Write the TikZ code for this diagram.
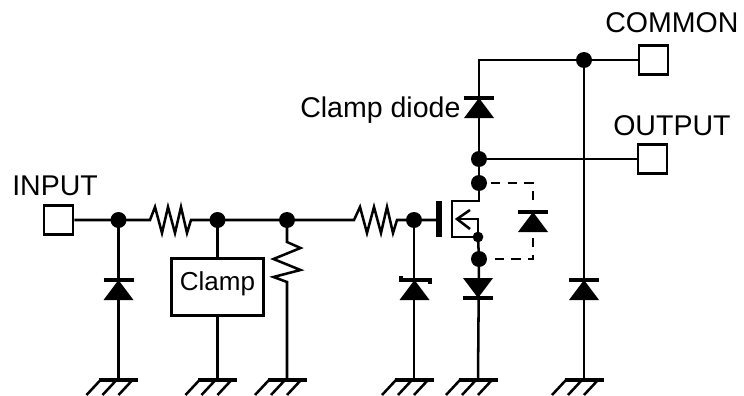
\documentclass[tikz,border=0pt]{standalone}
\usepackage{fontspec}
\setmainfont{Liberation Sans}
\tikzset{
  wire/.style={line width=1.9pt,line join=miter},
  dotn/.style={circle,fill=black,inner sep=0pt,minimum size=12pt},
  smalldot/.style={circle,fill=black,inner sep=0pt,minimum size=8pt},
  pad/.style={draw,line width=1.9pt,fill=white,inner sep=0pt,minimum width=22pt,minimum height=22pt},
  clampbox/.style={draw,line width=1.9pt,fill=white,inner sep=0pt,minimum width=69pt,minimum height=43pt,font=\fontsize{19.5}{22}\selectfont},
  lab/.style={anchor=base west,inner sep=0pt,font=\fontsize{21.4}{24}\selectfont},
  dashwire/.style={line width=1.9pt,dash pattern=on 7pt off 5.5pt},
  bar/.style={line width=3pt},
  gndsym/.pic={
    \draw[bar] (-19.5,0) -- (19.5,0);
    \draw[line width=1.9pt] (-18,0) -- ++(-14,15) (-2,0) -- ++(-14,15) (14,0) -- ++(-14,15);
  },
  diodeup/.pic={
    \fill (-15,20) -- (15,20) -- (0,0) -- cycle;
    \draw[bar] (-15,0) -- (15,0);
  },
  diodedown/.pic={
    \fill (-15,-20) -- (15,-20) -- (0,0) -- cycle;
    \draw[bar] (-15,0) -- (15,0);
  },
  zenerup/.pic={
    \fill (-15,20) -- (15,20) -- (0,0) -- cycle;
    \draw[line width=3pt] (-14,-4) -- (-14,0) -- (15,0) -- (15,4);
  }
}
\begin{document}
\begin{tikzpicture}[x=0.75pt,y=-0.75pt]
\useasboundingbox (0,0) rectangle (744,396);
% terminals
\node[pad] (pin) at (58.5,220) {};
\node[pad] (com) at (653.5,60) {};
\node[pad] (out) at (652.5,159) {};
\node[clampbox] (clamp) at (217.5,287) {};
\node[inner sep=0pt,font=\fontsize{19.5}{22}\selectfont] (clamptext) at (217.5,283.5) {Clamp};
% junctions
\node[dotn] (j1) at (118.5,220) {};
\node[dotn] (j2) at (217.5,220) {};
\node[dotn] (j3) at (287,220) {};
\node[dotn] (j4) at (414,220) {};
\node[dotn] (jc) at (584,60) {};
\node[dotn] (jo) at (479,159) {};
\node[dotn] (jd) at (479,183) {};
\node[dotn] (js) at (479,259) {};
\node[smalldot] (jb) at (478,237) {};
% grounds and diode positions
\coordinate (g1) at (118.5,380);
\coordinate (g2) at (217.5,380);
\coordinate (g3) at (287,380);
\coordinate (g4) at (414,380);
\coordinate (g5) at (478,380);
\coordinate (g6) at (584,380);
\coordinate (tl) at (479,60);
\coordinate (dd) at (533,212);
\coordinate (gateL) at (439,201);
\coordinate (gateH) at (439,237);
\coordinate (chT) at (452,201);
\coordinate (chB) at (452,237);
\coordinate (dT) at (479,201);
\coordinate (bT) at (478,219);
\coordinate (bH) at (457,219);
% wires
\draw[wire] (pin.east) -- (j1.center) -- (139,220) -- (150,220) -- (155,207) -- (162,233) -- (168,207) -- (175,233) -- (181,207) -- (187,233) -- (191,220) -- (j2.center) -- (j3.center) -- (348,220) -- (354,220) -- (360,207) -- (367,233) -- (374,207) -- (381,233) -- (387,207) -- (393,233) -- (397,220) -- (j4.center) -- (gateL |- j4);
\draw[wire] (j1.center) -- (g1);
\draw[wire] (j2.center) -- (clamp.north);
\draw[wire] (clamp.south) -- (g2);
\draw[wire] (j3.center) -- (287,242) -- (300.5,248) -- (273.5,259) -- (300.5,270) -- (273.5,277) -- (287,282) -- (g3);
\draw[wire] (j4.center) -- (g4);
\draw[wire] (com.west) -- (jc.center) -- (tl) -- (jo.center) -- (jd.center) -- (dT) -- (chT) -- (chB) -- (jb.center);
\draw[wire] (jo.center) -- (out.west);
\draw[wire] (jc.center) -- (g6);
\draw[wire] (jb.center) -- (bT) -- (bH);
\draw[wire] (470,210) -- (bH) -- (470,229);
\draw[wire] (jb.center) -- (js.center) -- (g5);
\draw[line width=3.8pt] (gateL) -- (gateH);
\draw[dashwire] (jd.center) ++(12,0) -- (dd |- jd) -- (533,207);
\draw[dashwire] (533,238) -- (dd |- js) -- ([xshift=9pt]js.center);
% symbols
\pic at (g1) {gndsym};
\pic at (g2) {gndsym};
\pic at (g3) {gndsym};
\pic at (g4) {gndsym};
\pic at (g5) {gndsym};
\pic at (g6) {gndsym};
\pic at (118.5,280) {diodeup};
\pic at (414.5,280) {zenerup};
\pic at (584,280) {diodeup};
\pic at (478,298) {diodedown};
\pic at (dd) {diodeup};
\pic at (479,98) {diodeup};
% labels
\node[lab] (tinput) at (12,195) {INPUT};
\node[lab] (tcommon) at (605,32) {COMMON};
\node[lab] (toutput) at (613,135) {OUTPUT};
\node[lab] (tdiode) at (300,117) {Clamp diode};
\end{tikzpicture}
\end{document}
